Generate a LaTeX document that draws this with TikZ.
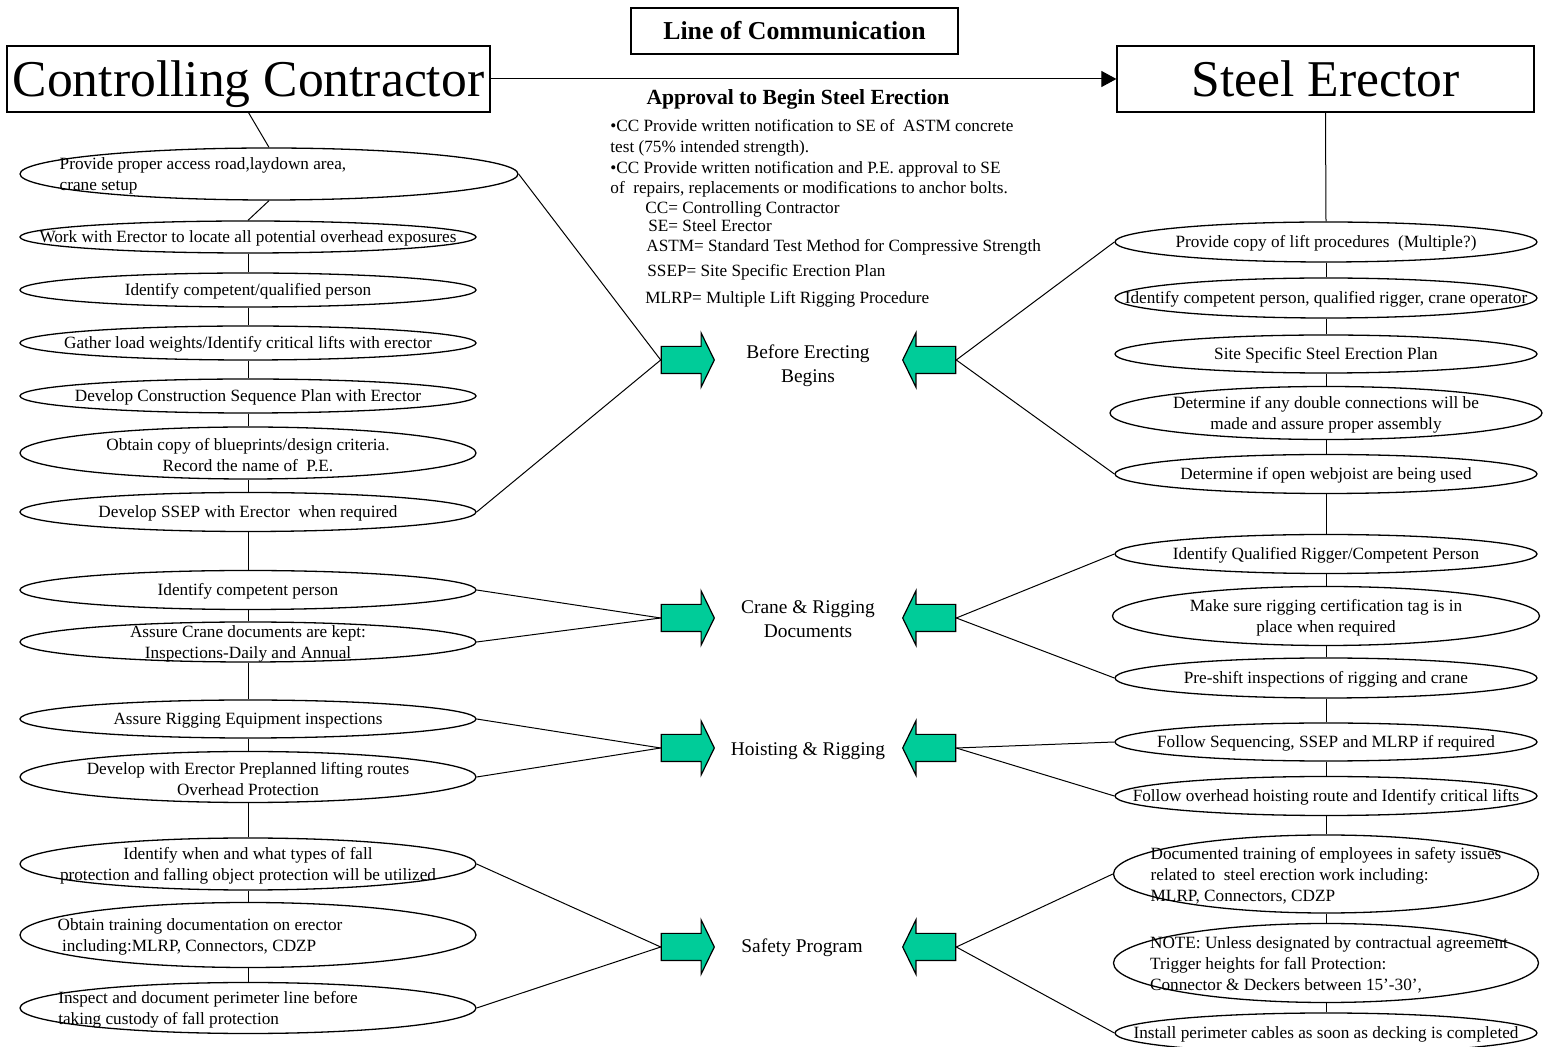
\documentclass[tikz,border=0pt]{standalone}
\usepackage{fontspec}
\setmainfont{Liberation Serif}
\usepackage{xcolor}
\usetikzlibrary{arrows.meta,positioning,calc,shapes.geometric,shapes.arrows}
\definecolor{gfill}{HTML}{00CC99}

\begin{document}
\begin{tikzpicture}[x=0.5pt, y=-0.5pt,
  box/.style={draw, line width=0.6pt, inner sep=0pt},
  bigbox/.style={box, minimum height=33pt, font=\fontsize{25.8}{30}\selectfont,
    text height=18pt, text depth=0pt},
  oval/.style={ellipse, draw, line width=0.65pt, inner sep=0pt, minimum width=#1},
  oval/.default=228pt,
  txt/.style={font=\fontsize{8.6}{10.5}\selectfont, align=center, inner sep=0pt, yshift=-0.8pt},
  ltxt/.style={txt, align=left, xshift=#1},
  ltxt/.default=0pt,
  garrow/.style={single arrow, draw, fill=gfill, line width=0.6pt, inner sep=0pt,
    inner ysep=6.5pt, minimum height=26.5pt, single arrow head extend=6.75pt,
    single arrow tip angle=128},
  stage/.style={font=\fontsize{9.7}{12}\selectfont, align=center, inner sep=0pt},
  link/.style={line width=0.5pt}]
\useasboundingbox (0,0) rectangle (1544,1047);

% title boxes
\node[box, minimum width=163.5pt, minimum height=23pt, font=\fontsize{12.9}{15}\selectfont\bfseries]
  (LoC) at (794.5,31) {Line of Communication};
\node[bigbox, minimum width=241.5pt] (CC) at (248.5,79) {Controlling Contractor};
\node[bigbox, minimum width=208.5pt] (SE) at (1325.5,79) {Steel Erector};
\draw[link, -{Triangle[length=7.5pt,width=8pt]}] (CC.east) -- (SE.west);

% approval notes
\node[font=\fontsize{10.8}{13}\selectfont\bfseries, inner sep=0pt] (appr) at (798,99)
  {Approval to Begin Steel Erection};
\node[txt, align=left, anchor=north west] (notes) at (610,117)
  {•CC Provide written notification to SE of~ ASTM concrete\\
   test (75\% intended strength).\\
   •CC Provide written notification and P.E. approval to SE\\[-0.5pt]
   of~ repairs, replacements or modifications to anchor bolts.\\[-0.5pt]
   \hspace*{17.5pt}CC= Controlling Contractor\\[-1.5pt]
   \hspace*{19pt}SE= Steel Erector\\[-0.5pt]
   \hspace*{18pt}ASTM= Standard Test Method for Compressive Strength\\[2pt]
   \hspace*{18.5pt}SSEP= Site Specific Erection Plan\\[3pt]
   \hspace*{17.5pt}MLRP= Multiple Lift Rigging Procedure};

% controlling contractor column
\node[oval=249pt, minimum height=26pt, label={[ltxt=-33pt]center:{Provide proper access road,laydown area,\\crane setup}}] (L1) at (269,174) {};
\node[oval, minimum height=16pt, label={[txt]center:{Work with Erector to locate all potential overhead exposures}}] (L2) at (248,237) {};
\node[oval, minimum height=17pt, label={[txt]center:{Identify competent/qualified person}}] (L3) at (248,290) {};
\node[oval, minimum height=17pt, label={[txt]center:{Gather load weights/Identify critical lifts with erector}}] (L4) at (248,343) {};
\node[oval, minimum height=17pt, label={[txt]center:{Develop Construction Sequence Plan with Erector}}] (L5) at (248,396) {};
\node[oval, minimum height=26pt, label={[txt]center:{Obtain copy of blueprints/design criteria.\\Record the name of~ P.E.}}] (L6) at (248,453) {};
\node[oval, minimum height=19.5pt, label={[txt]center:{Develop SSEP with Erector~ when required}}] (L7) at (248,512) {};
\node[oval, minimum height=19.5pt, label={[txt]center:{Identify competent person}}] (L8) at (248,590) {};
\node[oval, minimum height=20pt, label={[txt]center:{Assure Crane documents are kept:\\Inspections-Daily and Annual}}] (L9) at (248,642) {};
\node[oval, minimum height=19pt, label={[txt]center:{Assure Rigging Equipment inspections}}] (L10) at (248,719) {};
\node[oval, minimum height=25.5pt, label={[txt]center:{Develop with Erector Preplanned lifting routes\\Overhead Protection}}] (L11) at (248,777) {};
\node[oval, minimum height=26pt, label={[txt]center:{Identify when and what types of fall\\protection and falling object protection will be utilized}}] (L12) at (248,864) {};
\node[oval, minimum height=32.5pt, label={[ltxt=-24pt]center:{Obtain training documentation on erector\\\hspace*{2.2pt}including:MLRP, Connectors, CDZP}}] (L13) at (248,935) {};
\node[oval, minimum height=25.5pt, label={[ltxt=-20pt]center:{Inspect and document perimeter line before\\taking custody of fall protection}}] (L14) at (248,1008) {};

% steel erector column
\node[oval=211pt, minimum height=20pt, label={[txt]center:{Provide copy of lift procedures~ (Multiple?)}}] (R1) at (1326,242) {};
\node[oval=211pt, minimum height=20pt, label={[txt]center:{Identify competent person, qualified rigger, crane operator}}] (R2) at (1326,298) {};
\node[oval=211pt, minimum height=19pt, label={[txt]center:{Site Specific Steel Erection Plan}}] (R3) at (1326,354) {};
\node[oval=216pt, minimum height=26.5pt, label={[txt]center:{Determine if any double connections will be\\made and assure proper assembly}}] (R4) at (1326,413) {};
\node[oval=211pt, minimum height=19.5pt, label={[txt]center:{Determine if open webjoist are being used}}] (R5) at (1326,474) {};
\node[oval=211pt, minimum height=19.5pt, label={[txt]center:{Identify Qualified Rigger/Competent Person}}] (R6) at (1326,554) {};
\node[oval=213.5pt, minimum height=29.5pt, label={[txt]center:{Make sure rigging certification tag is in\\place when required}}] (R7) at (1326,616) {};
\node[oval=211pt, minimum height=20pt, label={[txt]center:{Pre-shift inspections of rigging and crane}}] (R8) at (1326,678) {};
\node[oval=211pt, minimum height=19pt, label={[txt]center:{Follow Sequencing, SSEP and MLRP if required}}] (R9) at (1326,742) {};
\node[oval=211pt, minimum height=19.5pt, label={[txt]center:{Follow overhead hoisting route and Identify critical lifts}}] (R10) at (1326,796) {};
\node[oval=212.5pt, minimum height=39pt, label={[ltxt]center:{Documented training of employees in safety issues\\related to~ steel erection work including:\\MLRP, Connectors, CDZP}}] (R11) at (1326,874) {};
\node[oval=212.5pt, minimum height=39.5pt, label={[ltxt=1.5pt]center:{NOTE: Unless designated by contractual agreement\\Trigger heights for fall Protection:\\Connector \& Deckers between 15’-30’,}}] (R12) at (1326,963) {};
\node[oval=211pt, minimum height=20pt, label={[txt]center:{Install perimeter cables as soon as decking is completed}}] (R13) at (1326,1033) {};

% stages with their arrows
\node[stage] (bef) at (808,366) {Before Erecting\\Begins};
\node[stage] (crane) at (808,619) {Crane \& Rigging\\Documents};
\node[stage] (hoist) at (808,751) {Hoisting \& Rigging};
\node[stage] (safe) at (802,948) {Safety Program};
\node[garrow] (befL) at (684.5,360) {};
\node[garrow] (craneL) at (684.5,618) {};
\node[garrow] (hoistL) at (684.5,748) {};
\node[garrow] (safeL) at (684.5,947) {};
\node[garrow, shape border rotate=180] (befR) at (932.5,360) {};
\node[garrow, shape border rotate=180] (craneR) at (932.5,618) {};
\node[garrow, shape border rotate=180] (hoistR) at (932.5,748) {};
\node[garrow, shape border rotate=180] (safeR) at (932.5,947) {};

% column connectors
\draw[link] (CC.south) -- (L1.north);
\draw[link] (SE.south) -- (R1.north);
\foreach \a/\b in {L1/L2,L2/L3,L3/L4,L4/L5,L5/L6,L6/L7,L7/L8,L8/L9,L9/L10,L10/L11,L11/L12,L12/L13,L13/L14,
  R1/R2,R2/R3,R3/R4,R4/R5,R5/R6,R6/R7,R7/R8,R8/R9,R9/R10,R10/R11,R11/R12,R12/R13}
  \draw[link] (\a.south) -- (\b.north);

% feeds into the stage arrows
\foreach \a/\b in {L1/befL,L7/befL,L8/craneL,L9/craneL,L10/hoistL,L11/hoistL,L12/safeL,L14/safeL}
  \draw[link] (\a.east) -- (\b.tail);
\foreach \a/\b in {R1/befR,R5/befR,R6/craneR,R8/craneR,R9/hoistR,R10/hoistR,R11/safeR,R13/safeR}
  \draw[link] (\a.west) -- (\b.tail);
\end{tikzpicture}
\end{document}
